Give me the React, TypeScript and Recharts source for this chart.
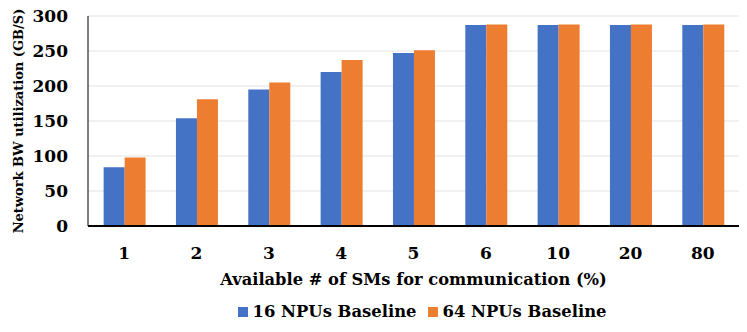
import {
  BarChart,
  Bar,
  XAxis,
  YAxis,
  CartesianGrid,
  Legend,
} from "recharts";

const smShares = ["1", "2", "3", "4", "5", "6", "10", "20", "80"];
const npu16Baseline = [84, 154, 195, 220, 247, 287, 287, 287, 287];
const npu64Baseline = [98, 181, 205, 237, 251, 288, 288, 288, 288];
const yTicks = [0, 50, 100, 150, 200, 250, 300];

const seriesInfo = [
  { key: "npu16", name: "16 NPUs Baseline", color: "#4472C4" },
  { key: "npu64", name: "64 NPUs Baseline", color: "#ED7D31" },
];

const FONT = "'DejaVu Serif', serif";

const chartData = smShares.map((share, i) => ({
  share,
  npu16: npu16Baseline[i],
  npu64: npu64Baseline[i],
}));

const LegendBox = () => (
  <div
    style={{
      display: "flex",
      justifyContent: "center",
      paddingLeft: 105,
      fontFamily: FONT,
      fontWeight: "bold",
      fontSize: 16.4,
      color: "#000",
      lineHeight: "24px",
    }}
  >
    {seriesInfo.map((s, i) => (
      <div
        key={s.key}
        style={{
          display: "flex",
          alignItems: "center",
          marginLeft: i === 0 ? 0 : 11,
        }}
      >
        <span
          style={{
            display: "inline-block",
            width: 10,
            height: 10,
            background: s.color,
            marginRight: 5,
          }}
        />
        {s.name}
      </div>
    ))}
  </div>
);

const App = () => {
  return (
    <div style={{ position: "absolute", left: 0, top: 0, background: "#fff" }}>
      <BarChart
        width={747}
        height={332}
        data={chartData}
        margin={{ top: 16, right: 8, bottom: 8, left: 0 }}
        barCategoryGap="21.6%"
        barGap={0}
      >
        <CartesianGrid vertical={false} stroke="#e3e3e3" strokeWidth={1.2} />
        <XAxis
          dataKey="share"
          height={74}
          tickLine={false}
          tickSize={0}
          tickMargin={21}
          axisLine={{ stroke: "#000", strokeWidth: 2 }}
          tick={{ fill: "#000", fontFamily: FONT, fontWeight: "bold", fontSize: 17 }}
          label={{
            value: "Available # of SMs for communication (%)",
            position: "insideBottom",
            offset: 15,
            fill: "#000",
            style: { fontFamily: FONT, fontWeight: "bold", fontSize: 16.3 },
          }}
        />
        <YAxis
          width={88}
          domain={[0, 300]}
          ticks={yTicks}
          interval={0}
          tickLine={false}
          tickSize={0}
          tickMargin={20}
          axisLine={{ stroke: "#000", strokeWidth: 1 }}
          tick={{ fill: "#000", fontFamily: FONT, fontWeight: "bold", fontSize: 17 }}
          label={{
            value: "Network BW utilization (GB/S)",
            angle: -90,
            position: "insideLeft",
            offset: 18,
            fill: "#000",
            style: {
              textAnchor: "middle",
              fontFamily: FONT,
              fontWeight: "bold",
              fontSize: 13,
            },
          }}
        />
        <Legend
          verticalAlign="bottom"
          height={24}
          content={<LegendBox />}
        />
        {seriesInfo.map((s) => (
          <Bar
            key={s.key}
            dataKey={s.key}
            name={s.name}
            fill={s.color}
            isAnimationActive={false}
          />
        ))}
      </BarChart>
    </div>
  );
};

export default App;
